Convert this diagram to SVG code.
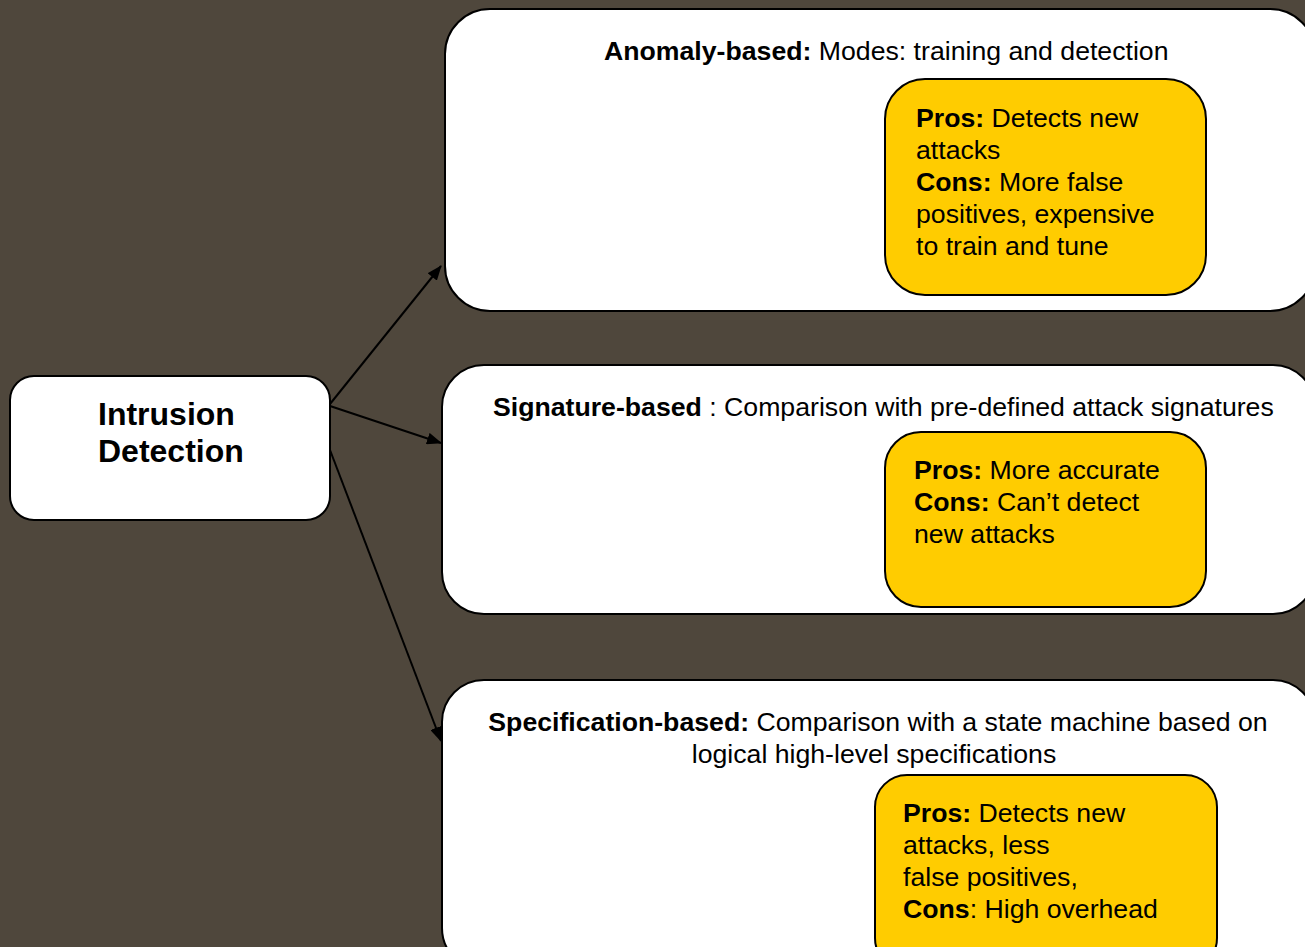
<svg xmlns="http://www.w3.org/2000/svg" width="1305" height="947" viewBox="0 0 1305 947">
<defs>
<style>
.box{fill:#ffffff;stroke:#000;stroke-width:2}
.pc{fill:#ffcc00;stroke:#000;stroke-width:2}
text{font-family:"Liberation Sans",Arial,sans-serif;font-size:26.67px;fill:#000}
.b{font-weight:bold}
.title{font-size:32px;font-weight:bold}
.conn{stroke:#000;stroke-width:2;fill:none;marker-end:url(#ah)}
</style>
<marker id="ah" markerWidth="15" markerHeight="12" refX="14" refY="6" orient="auto" markerUnits="userSpaceOnUse" viewBox="0 0 15 12">
<path d="M0,0 L15,6 L0,12 Z" fill="#000"/>
</marker>
</defs>
<rect width="1305" height="947" fill="#4f473c"/>
<g id="connectors">
<line class="conn" x1="330" y1="404" x2="441" y2="266"/>
<line class="conn" x1="330" y1="406" x2="441" y2="443"/>
<line class="conn" x1="330" y1="450" x2="441" y2="741"/>
</g>
<g id="intrusion">
<rect class="box" x="10" y="376" width="320" height="144" rx="24"/>
<text class="title" x="98" y="425">Intrusion</text>
<text class="title" x="98" y="462">Detection</text>
</g>
<g id="anomaly">
<rect class="box" x="445" y="9" width="870" height="302" rx="45"/>
<text x="604" y="60"><tspan class="b">Anomaly-based:</tspan> Modes: training and detection</text>
<rect class="pc" x="885" y="79" width="321" height="216" rx="40"/>
<text x="916" y="127"><tspan class="b">Pros:</tspan> Detects new</text>
<text x="916" y="159">attacks</text>
<text x="916" y="191"><tspan class="b">Cons:</tspan> More false</text>
<text x="916" y="223">positives, expensive</text>
<text x="916" y="255">to train and tune</text>
</g>
<g id="signature">
<rect class="box" x="442" y="365" width="873" height="249" rx="42"/>
<text x="493" y="416"><tspan class="b">Signature-based</tspan> : Comparison with pre-defined attack signatures</text>
<rect class="pc" x="885" y="432" width="321" height="175" rx="36"/>
<text x="914" y="479"><tspan class="b">Pros:</tspan> More accurate</text>
<text x="914" y="511"><tspan class="b">Cons:</tspan> Can’t detect</text>
<text x="914" y="543">new attacks</text>
</g>
<g id="specification">
<rect class="box" x="442" y="680" width="873" height="290" rx="42"/>
<text x="878" y="731" text-anchor="middle"><tspan class="b">Specification-based:</tspan> Comparison with a state machine based on</text>
<text x="874" y="763" text-anchor="middle">logical high-level specifications</text>
<rect class="pc" x="875" y="775" width="342" height="195" rx="32"/>
<text x="903" y="822"><tspan class="b">Pros:</tspan> Detects new</text>
<text x="903" y="854">attacks, less</text>
<text x="903" y="886">false positives,</text>
<text x="903" y="918"><tspan class="b">Cons</tspan>: High overhead</text>
</g>
</svg>
